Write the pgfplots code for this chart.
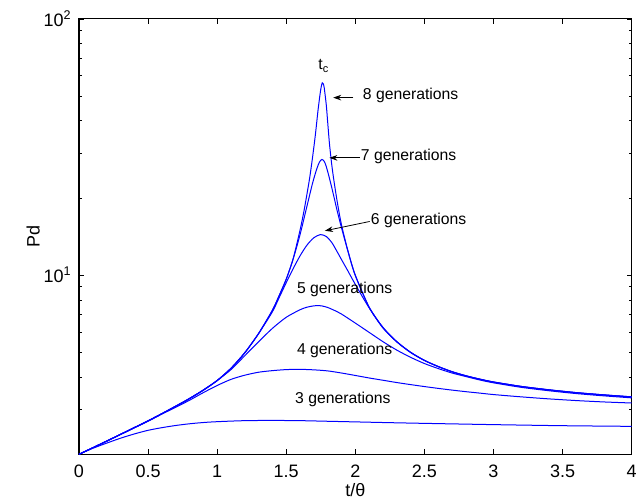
\documentclass[border=0pt]{standalone}
\usepackage{fontspec}
\setmainfont{Liberation Sans}
\usepackage{pgfplots}
\pgfplotsset{compat=1.18}
\usetikzlibrary{arrows.meta}

\definecolor{curveblue}{RGB}{0,0,255}
\pgfplotsset{gen/.style={curveblue, no markers, solid, line width=0.75pt, smooth, tension=0.45}}

\begin{document}
\begin{tikzpicture}
% page frame around the axis box (axis box lower-left corner sits at the origin)
\path[use as bounding box] (-59.25pt,-35.8pt) rectangle (417.75pt,340.7pt);
\begin{axis}[
  at={(0,0)}, anchor=south west,
  scale only axis, width=414.5pt, height=326.5pt,
  ymode=log,
  xmin=0, xmax=4, ymin=2, ymax=100,
  xtick={0,0.5,1,1.5,2,2.5,3,3.5,4},
  xticklabels={0,0.5,1,1.5,2,2.5,3,3.5,4},
  ytick={10,100},
  yticklabels={10\textsuperscript{1},10\textsuperscript{2}},
  minor ytick={3,4,5,6,7,8,9,20,30,40,50,60,70,80,90},
  tick align=inside,
  major tick length=3.8pt,
  minor tick length=2.1pt,
  every tick/.style={black, line width=0.6pt},
  axis line style={black, line width=0.8pt},
  tick label style={font=\fontsize{13.5}{16}\selectfont},
  xticklabel style={yshift=-4.6pt},
  yticklabel style={xshift=-2.2pt},
  label style={font=\fontsize{13.5}{16}\selectfont},
  xlabel={t/θ},
  ylabel={Pd},
  xlabel style={at={(axis description cs:0.5,-0.082)}, anchor=center},
  ylabel style={at={(axis description cs:-0.083,0.5)}, anchor=center},
  clip=true,
]

% 3 generations
\addplot[gen] table {
x y
0 2.00
0.1 2.11
0.2 2.21
0.3 2.31
0.4 2.40
0.5 2.48
0.6 2.54
0.7 2.59
0.8 2.63
0.9 2.66
1.0 2.68
1.2 2.705
1.4 2.71
1.6 2.705
1.8 2.69
2.0 2.675
2.2 2.66
2.5 2.64
3.0 2.61
3.5 2.585
4.0 2.57
};

% 4 generations
\addplot[gen] table {
x y
0 2.00
0.1 2.12
0.2 2.25
0.3 2.39
0.4 2.535
0.5 2.69
0.6 2.87
0.7 3.05
0.8 3.25
0.9 3.48
1.0 3.71
1.1 3.92
1.2 4.07
1.3 4.18
1.4 4.24
1.5 4.28
1.6 4.29
1.7 4.27
1.8 4.23
1.9 4.15
2.0 4.06
2.1 3.97
2.2 3.89
2.3 3.81
2.4 3.74
2.5 3.675
2.6 3.615
2.7 3.56
2.8 3.51
2.9 3.465
3.0 3.42
3.2 3.35
3.4 3.29
3.6 3.24
3.8 3.20
4.0 3.17
};

% 5 generations
\addplot[gen] table {
x y
0 2.00
0.1 2.12
0.2 2.25
0.3 2.39
0.4 2.54
0.5 2.70
0.6 2.88
0.7 3.08
0.8 3.30
0.9 3.56
1.0 3.88
1.1 4.28
1.2 4.85
1.3 5.50
1.4 6.20
1.5 6.85
1.6 7.33
1.65 7.50
1.7 7.59
1.727 7.61
1.76 7.58
1.8 7.48
1.85 7.28
1.9 7.05
2.0 6.50
2.1 5.98
2.2 5.50
2.3 5.10
2.4 4.78
2.5 4.52
2.6 4.32
2.7 4.15
2.8 4.02
2.9 3.90
3.0 3.80
3.2 3.65
3.4 3.54
3.6 3.45
3.8 3.38
4.0 3.32
};

% 6 generations
\addplot[gen] table {
x y
0 2.00
0.1 2.12
0.2 2.25
0.3 2.39
0.4 2.54
0.5 2.70
0.6 2.88
0.7 3.08
0.8 3.30
0.9 3.56
1.0 3.88
1.1 4.33
1.2 4.98
1.3 5.92
1.4 7.20
1.45 8.20
1.5 9.35
1.55 10.6
1.6 11.9
1.65 13.1
1.7 14.0
1.748 14.4
1.79 14.15
1.83 13.4
1.87 12.3
1.9 11.5
1.95 10.3
2.0 9.20
2.1 7.45
2.2 6.22
2.3 5.49
2.4 4.99
2.5 4.645
2.6 4.395
2.7 4.195
2.8 4.045
2.9 3.925
3.0 3.825
3.2 3.675
3.4 3.565
3.6 3.475
3.8 3.405
4.0 3.345
};

% 7 generations
\addplot[gen] table {
x y
0 2.00
0.1 2.12
0.2 2.25
0.3 2.39
0.4 2.54
0.5 2.70
0.6 2.88
0.7 3.08
0.8 3.30
0.9 3.56
1.0 3.88
1.1 4.33
1.2 4.98
1.3 5.92
1.4 7.30
1.45 8.35
1.5 9.65
1.55 11.55
1.6 14.4
1.65 18.6
1.69 22.8
1.72 25.9
1.74 27.6
1.758 28.3
1.775 27.8
1.79 26.5
1.81 24.2
1.83 21.9
1.85 19.7
1.87 17.7
1.9 15.3
1.95 12.2
2.0 9.95
2.1 7.50
2.2 6.25
2.3 5.50
2.4 5.00
2.5 4.65
2.6 4.40
2.7 4.20
2.8 4.05
2.9 3.93
3.0 3.83
3.2 3.68
3.4 3.57
3.6 3.48
3.8 3.41
4.0 3.35
};

% 8 generations
\addplot[gen] table {
x y
0 2.00
0.1 2.12
0.2 2.25
0.3 2.39
0.4 2.54
0.5 2.70
0.6 2.88
0.7 3.08
0.8 3.30
0.9 3.56
1.0 3.88
1.1 4.33
1.2 4.98
1.3 5.92
1.4 7.30
1.45 8.35
1.5 9.65
1.55 11.6
1.6 15.0
1.63 18.0
1.667 23.5
1.688 28.2
1.71 35.0
1.73 44.0
1.745 51.0
1.753 54.3
1.761 56.3
1.768 55.8
1.775 53.8
1.79 46.0
1.80 39.5
1.813 32.5
1.83 26.8
1.846 23.2
1.87 19.2
1.9 15.7
1.949 12.3
2.0 10.0
2.1 7.50
2.2 6.25
2.3 5.50
2.4 5.00
2.5 4.65
2.6 4.40
2.7 4.20
2.8 4.05
2.9 3.93
3.0 3.83
3.2 3.68
3.4 3.57
3.6 3.48
3.8 3.41
4.0 3.35
};

% annotations
\begin{scope}[every node/.style={font=\fontsize{11.8}{14}\selectfont, inner sep=0pt}]
\node[anchor=base] at (axis cs:1.771,63.2) {t\textsubscript{c}};
\node[anchor=west] at (axis cs:2.053,50.1) {8 generations};
\node[anchor=west] at (axis cs:2.039,29.0) {7 generations};
\node[anchor=west] at (axis cs:2.111,16.4) {6 generations};
\node[anchor=west] at (axis cs:1.576,8.83) {5 generations};
\node[anchor=west] at (axis cs:1.576,5.10) {4 generations};
\node[anchor=west] at (axis cs:1.563,3.28) {3 generations};
\end{scope}
\begin{scope}[black, line width=0.6pt, -{Stealth[length=6pt, width=4.2pt]}]
\draw (axis cs:1.985,49.3) -- (axis cs:1.840,49.3);
\draw (axis cs:2.032,28.7) -- (axis cs:1.812,28.7);
\draw (axis cs:2.104,16.2) -- (axis cs:1.780,14.9);
\end{scope}
\end{axis}
\end{tikzpicture}
\end{document}
